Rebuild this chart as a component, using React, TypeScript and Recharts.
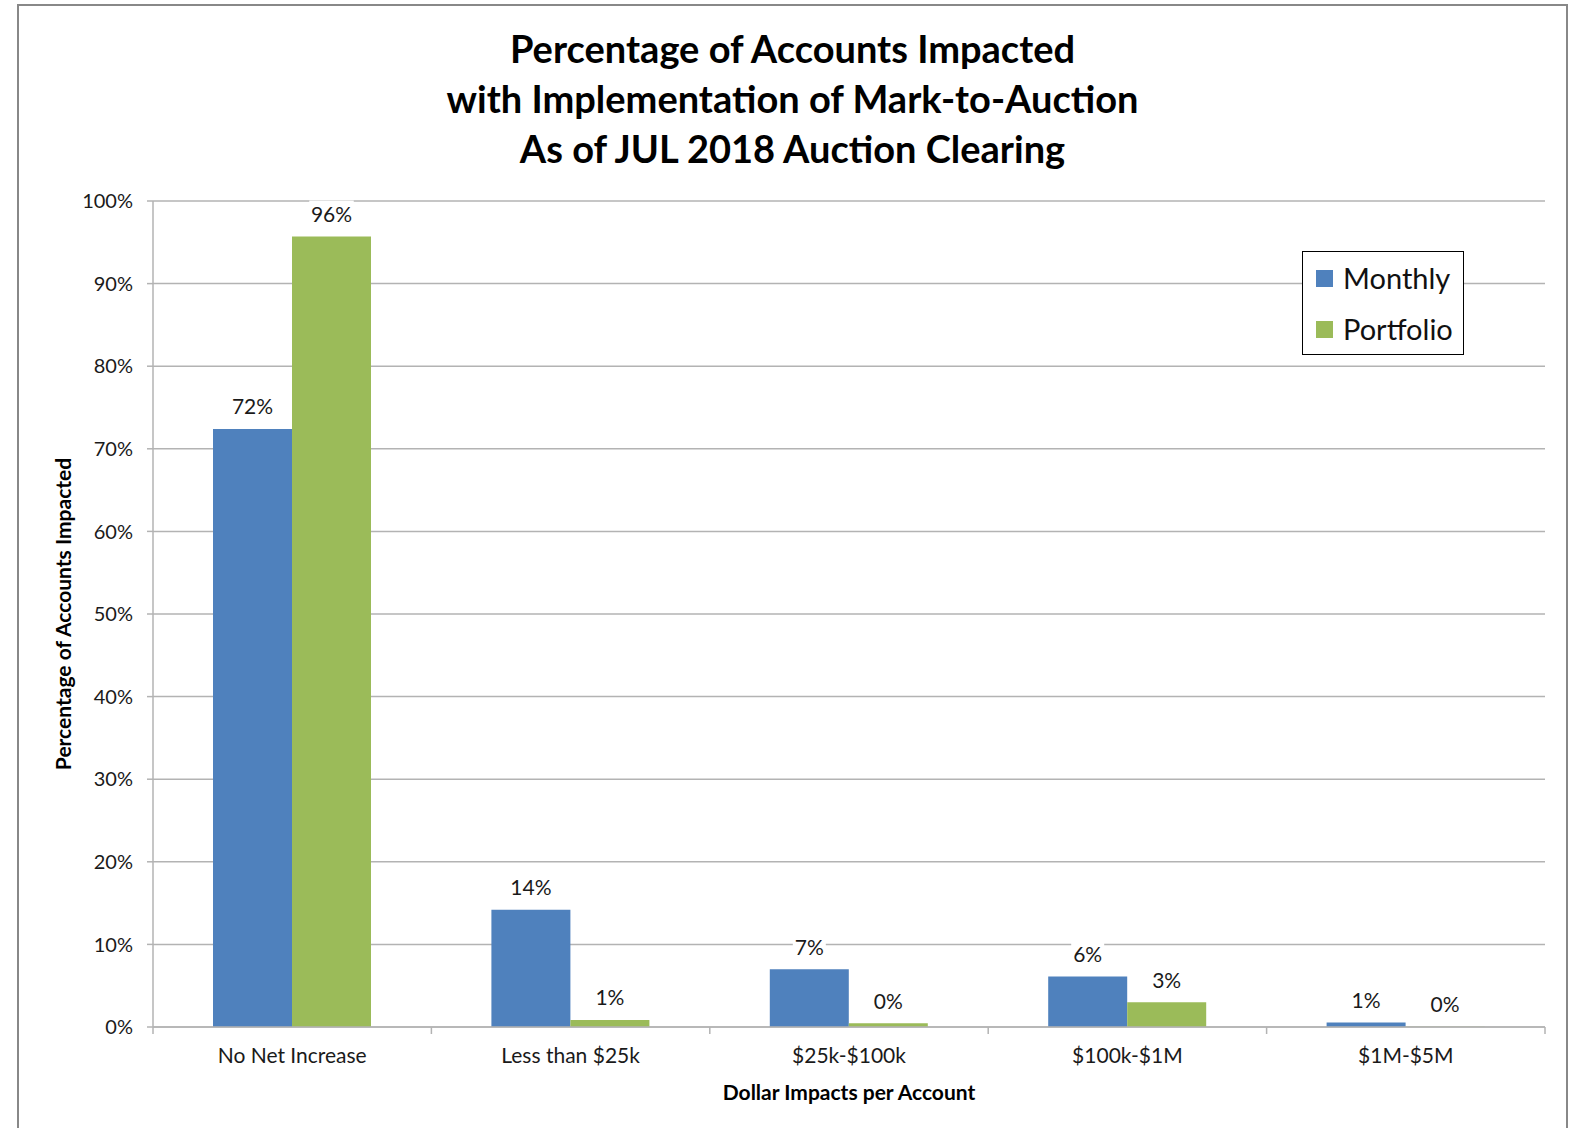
import React from "react";
import { BarChart, Bar, XAxis, YAxis, CartesianGrid, Legend, LabelList } from "recharts";

const categories = ["No Net Increase", "Less than $25k", "$25k-$100k", "$100k-$1M", "$1M-$5M"];
const monthly = [72.4, 14.2, 7.0, 6.1, 0.54];
const portfolio = [95.7, 0.85, 0.46, 3.0, 0.04];
const yTicks = [0, 10, 20, 30, 40, 50, 60, 70, 80, 90, 100];
const titleLines = [
  "Percentage of Accounts Impacted",
  "with Implementation of Mark-to-Auction",
  "As of JUL 2018 Auction Clearing",
];

const data = categories.map((name, i) => ({
  name,
  Monthly: monthly[i],
  Portfolio: portfolio[i],
}));

const W = 1571;
const H = 1128;
const MARGIN = { top: 201, right: 26, bottom: 21, left: 53 };
const Y_WIDTH = 100;
const BAND = (W - MARGIN.left - MARGIN.right - Y_WIDTH) / categories.length;

const BLUE = "#4f81bd";
const GREEN = "#9bbb59";
const GRID = "#b3b3b3";
const FONT = "Lato, 'Open Sans', sans-serif";

function CategoryTick(props: any) {
  const { x, y, payload, index } = props;
  return (
    <g>
      <line x1={x - BAND / 2} x2={x - BAND / 2} y1={y} y2={y + 7} stroke={GRID} strokeWidth={1.5} />
      {index === categories.length - 1 && (
        <line x1={x + BAND / 2} x2={x + BAND / 2} y1={y} y2={y + 7} stroke={GRID} strokeWidth={1.5} />
      )}
      <text x={x} y={y + 36} textAnchor="middle" fontSize={21} fill="#1a1a1a" fontFamily={FONT}>
        {payload.value}
      </text>
    </g>
  );
}

function ValueLabel(props: any) {
  const { x, y, width, value } = props;
  const cx = Number(x) + Number(width) / 2;
  const cy = Number(y) - 23;
  const text = `${Math.round(Number(value))}%`;
  const w = text.length * 11.5 + 10;
  return (
    <g>
      <rect x={cx - w / 2} y={cy - 13} width={w} height={26} fill="#fff" />
      <text
        x={cx}
        y={cy}
        textAnchor="middle"
        dominantBaseline="central"
        fontSize={21}
        fill="#1a1a1a"
        fontFamily={FONT}
      >
        {text}
      </text>
    </g>
  );
}

function LegendBox() {
  const items = [
    { name: "Monthly", color: BLUE },
    { name: "Portfolio", color: GREEN },
  ];
  return (
    <div
      style={{
        width: 162,
        height: 104,
        boxSizing: "border-box",
        border: "1px solid #000",
        background: "#fff",
        position: "relative",
        fontFamily: FONT,
      }}
    >
      {items.map((it, i) => (
        <div
          key={it.name}
          style={{
            position: "absolute",
            left: 13,
            top: 10 + i * 51,
            height: 32,
            display: "flex",
            alignItems: "center",
          }}
        >
          <span style={{ width: 17, height: 17, background: it.color, display: "inline-block" }} />
          <span style={{ marginLeft: 10, fontSize: 29, color: "#111", lineHeight: "32px" }}>{it.name}</span>
        </div>
      ))}
    </div>
  );
}

export default function App() {
  return (
    <div
      style={{
        position: "absolute",
        left: 0,
        top: 0,
        width: W,
        height: H,
        overflow: "hidden",
        background: "#fff",
        fontFamily: FONT,
      }}
    >
      <div
        style={{
          position: "absolute",
          left: 17,
          top: 4,
          width: 1551,
          height: 1200,
          boxSizing: "border-box",
          border: "2px solid #888",
        }}
      />
      <div
        style={{
          position: "absolute",
          left: 17,
          top: 23,
          width: 1551,
          textAlign: "center",
          fontWeight: 700,
          fontSize: 38,
          lineHeight: "50px",
          color: "#000",
        }}
      >
        {titleLines.map((t) => (
          <div key={t}>{t}</div>
        ))}
      </div>
      <div style={{ position: "absolute", left: 0, top: 0 }}>
        <BarChart width={W} height={H} data={data} margin={MARGIN} barCategoryGap={60} barGap={0}>
          <CartesianGrid vertical={false} stroke={GRID} strokeWidth={1.5} />
          <XAxis
            dataKey="name"
            height={80}
            interval={0}
            tickSize={0}
            tickMargin={0}
            tickLine={false}
            axisLine={{ stroke: GRID, strokeWidth: 1.5 }}
            tick={<CategoryTick />}
            label={{
              content: (p: any) => {
                const vb = p.viewBox || {};
                return (
                  <text
                    x={vb.x + vb.width / 2}
                    y={vb.y + 64}
                    textAnchor="middle"
                    dominantBaseline="central"
                    fontSize={21}
                    fontWeight={700}
                    fill="#000"
                    fontFamily={FONT}
                  >
                    Dollar Impacts per Account
                  </text>
                );
              },
            }}
          />
          <YAxis
            width={Y_WIDTH}
            domain={[0, 100]}
            ticks={yTicks}
            tickFormatter={(v) => `${v}%`}
            tickSize={6}
            tickMargin={14}
            axisLine={{ stroke: GRID, strokeWidth: 1.5 }}
            tickLine={{ stroke: GRID, strokeWidth: 1.5 }}
            tick={{ fill: "#1a1a1a", fontSize: 20, fontFamily: FONT }}
            label={{
              content: (p: any) => {
                const vb = p.viewBox || {};
                const cx = vb.x + 9;
                const cy = vb.y + vb.height / 2;
                return (
                  <text
                    x={cx}
                    y={cy}
                    transform={`rotate(-90 ${cx} ${cy})`}
                    textAnchor="middle"
                    dominantBaseline="central"
                    fontSize={21}
                    fontWeight={700}
                    fill="#000"
                    fontFamily={FONT}
                  >
                    Percentage of Accounts Impacted
                  </text>
                );
              },
            }}
          />
          <Legend
            layout="horizontal"
            verticalAlign="middle"
            align="center"
            content={() => <LegendBox />}
            wrapperStyle={{ position: "absolute", left: 1302, top: 251, width: 162, height: 104 }}
          />
          <Bar dataKey="Monthly" fill={BLUE} isAnimationActive={false}>
            <LabelList dataKey="Monthly" content={<ValueLabel />} />
          </Bar>
          <Bar dataKey="Portfolio" fill={GREEN} isAnimationActive={false}>
            <LabelList dataKey="Portfolio" content={<ValueLabel />} />
          </Bar>
        </BarChart>
      </div>
    </div>
  );
}
